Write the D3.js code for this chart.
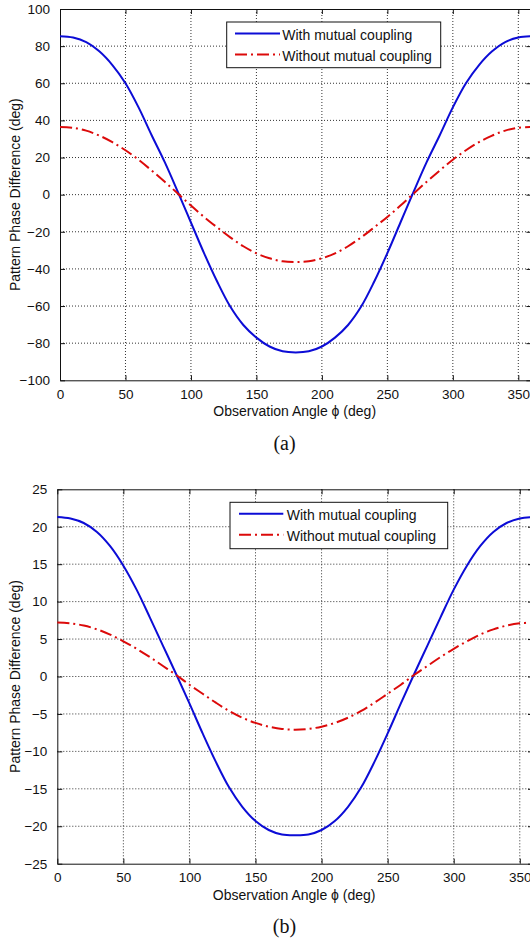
<!DOCTYPE html>
<html>
<head>
<meta charset="utf-8">
<script src="https://cdn.jsdelivr.net/npm/d3@7"></script>
<style>
  body { margin: 0; background: #fff; }
  text { font-family: "Liberation Sans", Arial, sans-serif; fill: #111; }
</style>
</head>
<body>
<svg id="chart" width="530" height="942"></svg>
<script>
// observation angle (deg)
const angles = [0, 10, 20, 30, 40, 50, 60, 70, 80, 90, 100, 110, 120, 130, 140, 150, 160, 170, 180,
  190, 200, 210, 220, 230, 240, 250, 260, 270, 280, 290, 300, 310, 320, 330, 340, 350, 360];

// (a) pattern phase difference (deg)
const withA = [85.3, 84.6, 82.2, 77.2, 69.8, 60.0, 47.0, 32.0, 17.5, 1.5, -15.0, -31.5, -46.8, -60.3, -70.2, -77.0, -81.8, -84.4, -85.0,
  -84.4, -81.8, -77.0, -70.2, -60.3, -46.8, -31.5, -15.0, 1.5, 17.5, 32.0, 47.0, 60.0, 69.8, 77.2, 82.2, 84.6, 85.3];
const withoutA = [36.4, 36.0, 34.5, 31.8, 28.3, 23.9, 18.8, 13.0, 6.9, 0.6, -5.9, -12.0, -17.6, -23.0, -27.8, -31.6, -34.3, -35.9, -36.3,
  -35.9, -34.3, -31.6, -27.8, -23.0, -17.6, -12.0, -5.9, 0.6, 6.9, 13.0, 18.8, 23.9, 28.3, 31.8, 34.5, 36.0, 36.4];

// (b) pattern phase difference (deg)
const withB = [21.3, 21.1, 20.5, 19.3, 17.4, 14.8, 11.6, 7.9, 4.1, 0.3, -3.6, -7.6, -11.4, -14.8, -17.4, -19.3, -20.5, -21.1, -21.2,
  -21.1, -20.5, -19.3, -17.4, -14.8, -11.4, -7.6, -3.6, 0.3, 4.1, 7.9, 11.6, 14.8, 17.4, 19.3, 20.5, 21.1, 21.3];
const withoutB = [7.2, 7.1, 6.8, 6.3, 5.6, 4.7, 3.7, 2.6, 1.4, 0.2, -1.1, -2.3, -3.5, -4.6, -5.5, -6.2, -6.7, -7.0, -7.1,
  -7.0, -6.7, -6.2, -5.5, -4.6, -3.5, -2.3, -1.1, 0.2, 1.4, 2.6, 3.7, 4.7, 5.6, 6.3, 6.8, 7.1, 7.2];

const xTicks = [0, 50, 100, 150, 200, 250, 300, 350];
const yTicksA = [-100, -80, -60, -40, -20, 0, 20, 40, 60, 80, 100];
const yTicksB = [-25, -20, -15, -10, -5, 0, 5, 10, 15, 20, 25];
const seriesNames = ["With mutual coupling", "Without mutual coupling"];
const captions = ["(a)", "(b)"];

const panels = [
  { left: 60, right: 531.4, top: 9, bottom: 380.3, yDomain: [-100, 100], yTicks: yTicksA,
    series: [withA, withoutA], legend: { x: 226.7, y: 22, w: 214, h: 45.7, line0: 235, line1: 280, tx: 282.3 },
    caption: captions[0], capY: 449.5 },
  { left: 57.3, right: 533, top: 489.3, bottom: 863.7, yDomain: [-25, 25], yTicks: yTicksB,
    series: [withB, withoutB], legend: { x: 230, y: 502.3, w: 217.7, h: 46.4, line0: 239, line1: 283.3, tx: 286.7 },
    caption: captions[1], capY: 933 }
];

const colors = ["#0c0cd6", "#dc0a0a"];
const dashes = [null, "12,4,2,4"];

const svg = d3.select("#chart");
svg.append("rect").attr("width", 530).attr("height", 942).attr("fill", "#fff");

panels.forEach(p => {
  const x = d3.scaleLinear().domain([0, 360]).range([p.left, p.right]);
  const y = d3.scaleLinear().domain(p.yDomain).range([p.bottom, p.top]);
  const g = svg.append("g");

  // dotted grid
  g.selectAll(".vgrid").data(xTicks.filter(t => t > 0)).enter().append("line")
    .attr("x1", d => x(d)).attr("x2", d => x(d))
    .attr("y1", p.top).attr("y2", p.bottom)
    .attr("stroke", "#333").attr("stroke-width", 1).attr("stroke-dasharray", "1,2");
  g.selectAll(".hgrid").data(p.yTicks.filter(t => t > p.yDomain[0] && t < p.yDomain[1])).enter().append("line")
    .attr("x1", p.left).attr("x2", p.right)
    .attr("y1", d => y(d)).attr("y2", d => y(d))
    .attr("stroke", "#333").attr("stroke-width", 1).attr("stroke-dasharray", "1,2");

  // axes (MATLAB style: ticks inside on all sides)
  const xb = d3.axisBottom(x).tickValues(xTicks).tickSizeInner(-5).tickSizeOuter(0).tickPadding(9);
  const xt = d3.axisTop(x).tickValues(xTicks).tickSizeInner(-5).tickSizeOuter(0).tickFormat("");
  const yl = d3.axisLeft(y).tickValues(p.yTicks).tickSizeInner(-5).tickSizeOuter(0).tickPadding(10);
  const yr = d3.axisRight(y).tickValues(p.yTicks).tickSizeInner(-5).tickSizeOuter(0).tickFormat("");

  [[xb, `translate(0,${p.bottom})`], [xt, `translate(0,${p.top})`],
   [yl, `translate(${p.left},0)`], [yr, `translate(${p.right},0)`]].forEach(([ax, tr]) => {
    const a = g.append("g").attr("transform", tr).call(ax);
    a.select(".domain").attr("stroke", "#111");
    a.selectAll(".tick line").attr("stroke", "#111");
    a.selectAll("text").style("font-family", '"Liberation Sans", Arial, sans-serif')
      .style("font-size", "13.5px").attr("fill", "#111");
  });

  // curves
  const line = d3.line().x((d, i) => x(angles[i])).y(d => y(d)).curve(d3.curveCatmullRom.alpha(0.5));
  p.series.forEach((s, k) => {
    g.append("path").datum(s).attr("d", line)
      .attr("fill", "none").attr("stroke", colors[k]).attr("stroke-width", 2)
      .attr("stroke-dasharray", dashes[k]);
  });

  // legend
  const L = p.legend;
  g.append("rect").attr("x", L.x).attr("y", L.y).attr("width", L.w).attr("height", L.h)
    .attr("fill", "#fff").attr("stroke", "#111").attr("stroke-width", 1);
  seriesNames.forEach((name, k) => {
    const ly = L.y + 11.5 + k * 21;
    g.append("line").attr("x1", L.line0).attr("x2", L.line1).attr("y1", ly).attr("y2", ly)
      .attr("stroke", colors[k]).attr("stroke-width", 2).attr("stroke-dasharray", dashes[k]);
    g.append("text").attr("x", L.tx).attr("y", ly + 6.5).attr("font-size", "14px").text(name);
  });

  // axis labels
  const cx = (p.left + p.right) / 2;
  g.append("text").attr("x", cx - 1).attr("y", p.bottom + 36).attr("text-anchor", "middle")
    .attr("font-size", "14px").text("Observation Angle \u03d5 (deg)");
  g.append("text").attr("transform", `translate(20,${(p.top + p.bottom) / 2}) rotate(-90)`)
    .attr("text-anchor", "middle").attr("font-size", "14px").text("Pattern Phase Difference (deg)");

  // caption
  svg.append("text").attr("x", 284.5).attr("y", p.capY).attr("text-anchor", "middle")
    .style("font-family", '"Liberation Serif", "Times New Roman", serif').attr("font-size", "20px")
    .text(p.caption);
});
</script>
</body>
</html>
